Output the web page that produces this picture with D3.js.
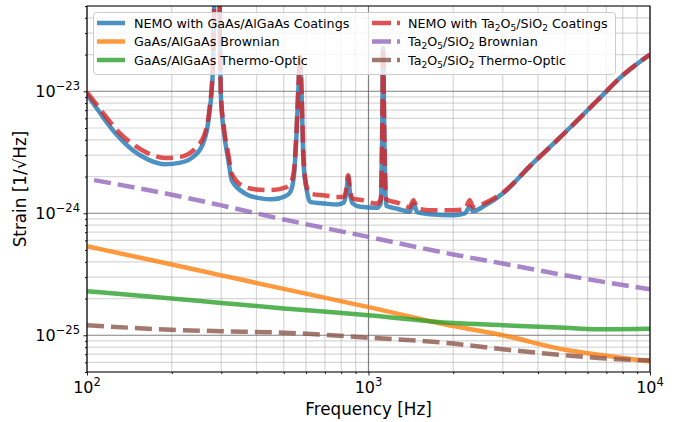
<!DOCTYPE html>
<html><head><meta charset="utf-8">
<script src="https://cdn.jsdelivr.net/npm/d3@7"></script>
<style>
html,body{margin:0;padding:0;background:#fff;}
svg{display:block;font-family:"DejaVu Sans",sans-serif;}
</style></head>
<body><svg id="chart" width="674" height="422"></svg>
<script>
// ---------- data ----------
const nemoFreq = [100,110,116,129,145,165,189,215,242,263,272,280,287,293,299,306,318,327,365,410,454,506,528,543,555,565,571,578,588,605,620,700,773,815,835,847,860,880,935,1073,1105,1118,1127,1137,1155,1265,1400,1445,1490,1656,2000,2200,2290,2350,2565,3030,3770,4680,6500,8000,10000];
const nemoGaAs = [9.4e-24,6.9e-24,5.8e-24,4.27e-24,3.3e-24,2.75e-24,2.52e-24,2.6e-24,2.99e-24,4.2e-24,6.6e-24,1.5e-23,2e-22,2e-22,9e-24,4.8e-24,2.7e-24,1.86e-24,1.45e-24,1.33e-24,1.30e-24,1.38e-24,1.5e-24,2e-24,4.5e-24,1.2e-23,1.9e-23,1e-23,2.5e-24,1.5e-24,1.24e-24,1.2e-24,1.18e-24,1.22e-24,1.5e-24,1.97e-24,1.45e-24,1.2e-24,1.13e-24,1.11e-24,1.2e-24,4e-24,2.25e-23,5e-24,1.15e-24,1.09e-24,1.03e-24,1.2e-24,1.02e-24,9.8e-25,9.64e-25,1.0e-24,1.13e-24,1.04e-24,1.14e-24,1.48e-24,2.47e-24,3.97e-24,8.4e-24,1.35e-23,2e-23];
const nemoTa = [9.8e-24,7.4e-24,6.3e-24,4.67e-24,3.7e-24,3.1e-24,2.84e-24,2.9e-24,3.39e-24,4.6e-24,7e-24,1.6e-23,2e-22,2e-22,9.5e-24,5.2e-24,3e-24,2.1e-24,1.64e-24,1.56e-24,1.55e-24,1.62e-24,1.75e-24,2.2e-24,4.7e-24,1.25e-23,1.9e-23,1.05e-23,2.8e-24,1.6e-24,1.45e-24,1.4e-24,1.36e-24,1.36e-24,1.6e-24,2.05e-24,1.55e-24,1.32e-24,1.29e-24,1.2e-24,1.3e-24,4.2e-24,2.25e-23,5.2e-24,1.3e-24,1.22e-24,1.12e-24,1.28e-24,1.1e-24,1.06e-24,1.06e-24,1.08e-24,1.28e-24,1.12e-24,1.2e-24,1.5e-24,2.47e-24,3.97e-24,8.4e-24,1.35e-23,2e-23];

const thermFreq = [100,200,300,500,1000,2000,3000,5000,7000,10000];
const gaasBrownian = [5.37e-25,3.8e-25,3.1e-25,2.4e-25,1.7e-25,1.19e-25,1.0e-25,7.6e-26,6.8e-26,6.1e-26];
const gaasThermoOptic = [2.3e-25,2.0e-25,1.84e-25,1.66e-25,1.46e-25,1.26e-25,1.21e-25,1.15e-25,1.12e-25,1.13e-25];
const taThermoOptic = [1.21e-25,1.11e-25,1.08e-25,1.05e-25,9.55e-26,8.55e-26,7.68e-26,6.85e-26,6.45e-26,6.24e-26];

const taBrownFreq = [106,200,300,500,1000,2000,3000,5000,10000];
const taBrownian = [1.87e-24,1.42e-24,1.16e-24,8.9e-25,6.4e-25,4.6e-25,3.87e-25,3.1e-25,2.38e-25];

const xMajorTicks = [100,1000,10000];
const xTickExp = ["2","3","4"];
const yMajorTicks = [1e-25,1e-24,1e-23];
const yTickExp = ["−25","−24","−23"];

// ---------- layout ----------
const L=87,R=650,T=6,B=372;
const svg = d3.select("#chart");
const x = d3.scaleLog().domain([100,1e4]).range([L,R]);
const y = d3.scaleLog().domain([5e-26,5e-23]).range([B,T]);

// minor ticks
const xMinor = [];
for (let d=100; d<1e4; d*=10) for (let k=2;k<=9;k++) xMinor.push(k*d);
const yMinor = [];
for (let d=1e-26; d<1e-22; d*=10) for (let k=2;k<=9;k++){const v=k*d; if(v>=5e-26*0.999 && v<=5e-23*1.001) yMinor.push(v);}

// grid
const grid = svg.append("g");
grid.selectAll(".xmin").data(xMinor).join("line")
  .attr("x1",d=>x(d)).attr("x2",d=>x(d)).attr("y1",T).attr("y2",B)
  .attr("stroke","#b0b0b0").attr("stroke-opacity",0.5).attr("stroke-width",1.2);
grid.selectAll(".ymin").data(yMinor).join("line")
  .attr("y1",d=>y(d)).attr("y2",d=>y(d)).attr("x1",L).attr("x2",R)
  .attr("stroke","#b0b0b0").attr("stroke-opacity",0.5).attr("stroke-width",1.2);
grid.selectAll(".xmaj").data(xMajorTicks).join("line")
  .attr("x1",d=>x(d)).attr("x2",d=>x(d)).attr("y1",T).attr("y2",B)
  .attr("stroke","#555").attr("stroke-opacity",0.75).attr("stroke-width",1.2);
grid.selectAll(".ymaj").data(yMajorTicks).join("line")
  .attr("y1",d=>y(d)).attr("y2",d=>y(d)).attr("x1",L).attr("x2",R)
  .attr("stroke","#555").attr("stroke-opacity",0.75).attr("stroke-width",1.2);

// clip
svg.append("clipPath").attr("id","clip").append("rect").attr("x",L).attr("y",T).attr("width",R-L).attr("height",B-T);
const plot = svg.append("g").attr("clip-path","url(#clip)");

const line = d3.line().x(d=>x(d[0])).y(d=>y(d[1])).curve(d3.curveMonotoneX);
const zip = (a,b)=>a.map((v,i)=>[v,b[i]]);
const DASH = "17,7";
const LW = 4.5;
const series = [
  {data:zip(nemoFreq,nemoGaAs), color:"#1f77b4", dash:null},
  {data:zip(thermFreq,gaasBrownian), color:"#ff7f0e", dash:null},
  {data:zip(thermFreq,gaasThermoOptic), color:"#2ca02c", dash:null},
  {data:zip(nemoFreq,nemoTa), color:"#d62728", dash:DASH},
  {data:zip(taBrownFreq,taBrownian), color:"#9467bd", dash:DASH},
  {data:zip(thermFreq,taThermoOptic), color:"#8c564b", dash:DASH}
];
series.forEach(s=>{
  plot.append("path").attr("d",line(s.data)).attr("fill","none")
    .attr("stroke",s.color).attr("stroke-opacity",0.8).attr("stroke-width",LW)
    .attr("stroke-dasharray",s.dash).attr("stroke-linejoin","round");
});

// axes
const ax = svg.append("g");
const xAxis = ax.append("g").attr("transform",`translate(0,${B})`)
  .call(d3.axisBottom(x).tickValues(xMajorTicks).tickSize(3.5).tickFormat(""));
const xAxisMinor = ax.append("g").attr("transform",`translate(0,${B})`)
  .call(d3.axisBottom(x).tickValues(xMinor).tickSize(2).tickFormat(""));
const yAxis = ax.append("g").attr("transform",`translate(${L},0)`)
  .call(d3.axisLeft(y).tickValues(yMajorTicks).tickSize(3.5).tickFormat(""));
const yAxisMinor = ax.append("g").attr("transform",`translate(${L},0)`)
  .call(d3.axisLeft(y).tickValues(yMinor).tickSize(2).tickFormat(""));
[xAxis,xAxisMinor,yAxis,yAxisMinor].forEach(g=>{g.select(".domain").remove(); g.selectAll("line").attr("stroke","#000").attr("stroke-width",0.9);});

// tick labels with superscripts
xMajorTicks.forEach((v,i)=>{
  const t = svg.append("text").attr("x",x(v)).attr("y",B+21).attr("text-anchor","middle")
    .attr("font-size",16).attr("fill","#000");
  t.append("tspan").text("10");
  t.append("tspan").attr("dy",-7).attr("font-size",11.5).text(xTickExp[i]);
});
yMajorTicks.forEach((v,i)=>{
  const t = svg.append("text").attr("x",L-7).attr("y",y(v)+6).attr("text-anchor","end")
    .attr("font-size",16).attr("fill","#000");
  t.append("tspan").text("10");
  t.append("tspan").attr("dy",-7).attr("font-size",11.5).text(yTickExp[i]);
});

// frame
svg.append("rect").attr("x",L).attr("y",T).attr("width",R-L).attr("height",B-T)
  .attr("fill","none").attr("stroke","#000").attr("stroke-width",1);

// axis labels
svg.append("text").attr("x",(L+R)/2).attr("y",415).attr("text-anchor","middle")
  .attr("font-size",16.8).text("Frequency [Hz]");
svg.append("text").attr("transform",`translate(26,${(T+B)/2}) rotate(-90)`).attr("text-anchor","middle")
  .attr("font-size",16.8).text("Strain [1/√Hz]");

// legend
const lg = svg.append("g");
lg.append("rect").attr("x",93.5).attr("y",12.5).attr("width",522).attr("height",62).attr("rx",3)
  .attr("fill","#fff").attr("fill-opacity",0.8).attr("stroke","#ccc").attr("stroke-width",1);
const rowsY = [23,41.5,60];
const cols = [{hx:97,tx:134},{hx:372,tx:408}];
const legendNames = [
  ["NEMO with GaAs/AlGaAs Coatings"],
  ["GaAs/AlGaAs Brownian"],
  ["GaAs/AlGaAs Thermo-Optic"],
  ["NEMO with Ta",{sub:"2"},"O",{sub:"5"},"/SiO",{sub:"2"}," Coatings"],
  ["Ta",{sub:"2"},"O",{sub:"5"},"/SiO",{sub:"2"}," Brownian"],
  ["Ta",{sub:"2"},"O",{sub:"5"},"/SiO",{sub:"2"}," Thermo-Optic"]
];
function addLabel(tx,ty,parts){
  const t = lg.append("text").attr("x",tx).attr("y",ty+4.5).attr("font-size",12.7).attr("fill","#000");
  let lowered = false;
  parts.forEach(p=>{
    if(typeof p==="string"){
      const s = t.append("tspan").text(p);
      if(lowered){ s.attr("dy",-3); lowered=false; }
    } else {
      t.append("tspan").attr("dy",3).attr("font-size",9).text(p.sub);
      lowered = true;
    }
  });
}
series.forEach((s,i)=>{
  const c = cols[Math.floor(i/3)], ry = rowsY[i%3];
  lg.append("line").attr("x1",c.hx).attr("x2",c.hx+28).attr("y1",ry).attr("y2",ry)
    .attr("stroke",s.color).attr("stroke-opacity",0.8).attr("stroke-width",LW)
    .attr("stroke-dasharray",s.dash ? "19,6" : null);
  addLabel(c.tx,ry,legendNames[i]);
});
</script></body></html>
